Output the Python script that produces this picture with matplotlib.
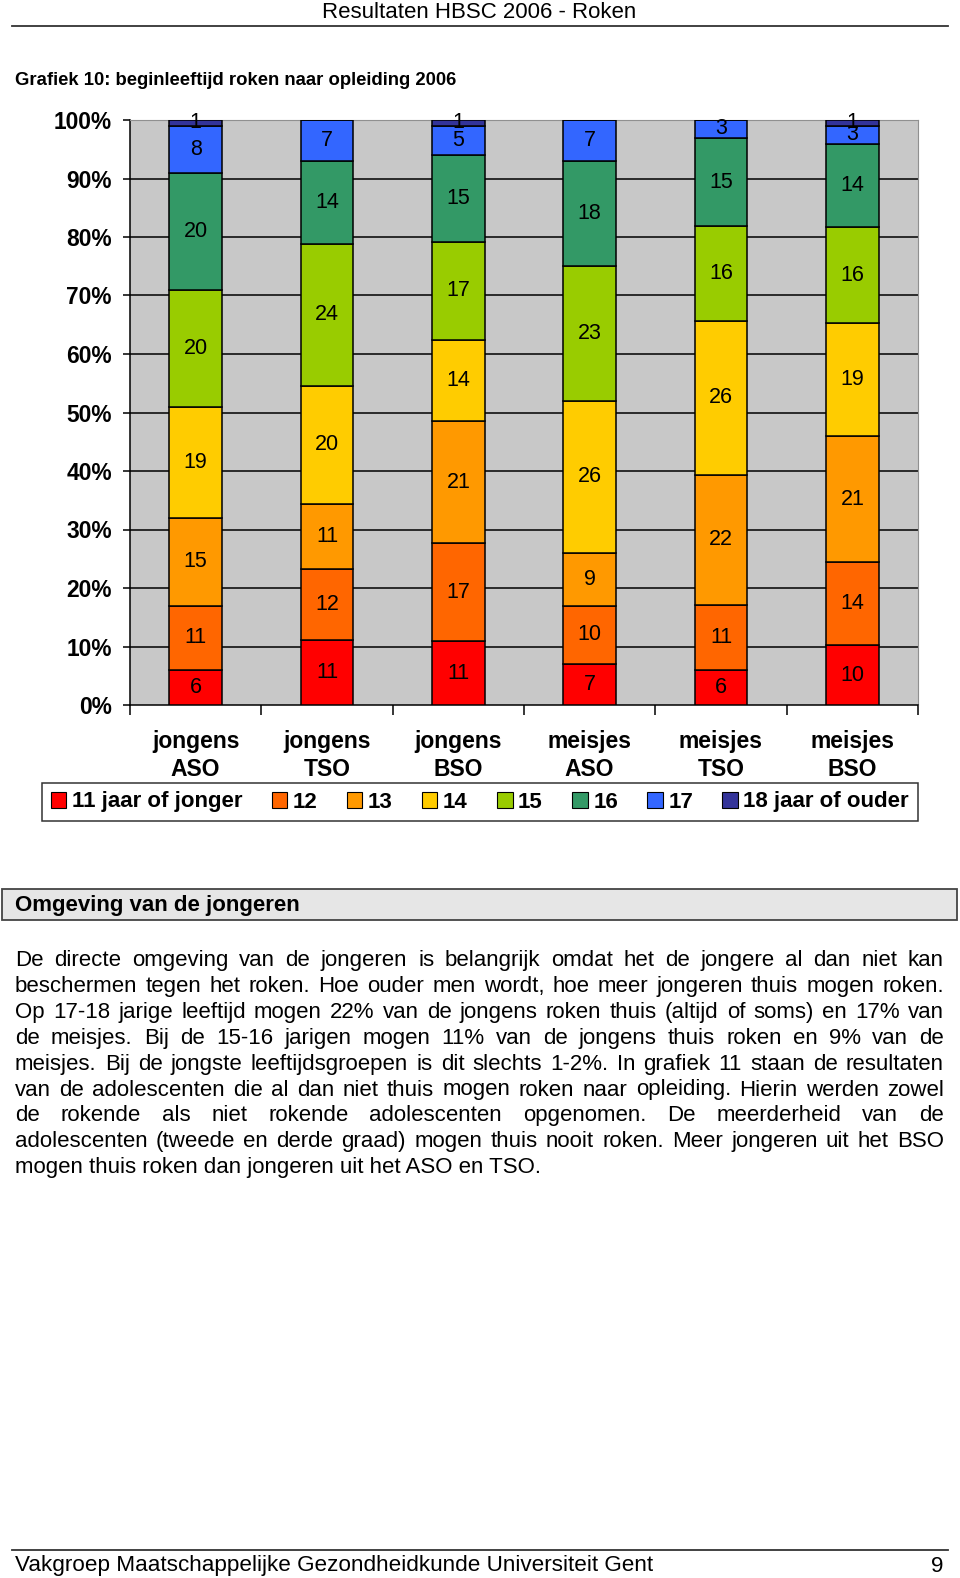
import matplotlib
matplotlib.use('Agg')
import matplotlib.pyplot as plt
import numpy as np
from matplotlib.patches import Rectangle, Patch

plt.rcParams['font.family'] = ['Liberation Sans', 'DejaVu Sans']

# chart data (percent, bottom to top)
groups = ['jongens\nASO', 'jongens\nTSO', 'jongens\nBSO', 'meisjes\nASO', 'meisjes\nTSO', 'meisjes\nBSO']
ages = ['11 jaar of jonger', '12', '13', '14', '15', '16', '17', '18 jaar of ouder']
colors = ['#FF0000', '#FF6600', '#FF9900', '#FFCC00', '#99CC00', '#339966', '#3366FF', '#333399']

age11 = [6, 11, 11, 7, 6, 10]
age12 = [11, 12, 17, 10, 11, 14]
age13 = [15, 11, 21, 9, 22, 21]
age14 = [19, 20, 14, 26, 26, 19]
age15 = [20, 24, 17, 23, 16, 16]
age16 = [20, 14, 15, 18, 15, 14]
age17 = [8, 7, 5, 7, 3, 3]
age18 = [1, 0, 1, 0, 0, 1]

y_ticks = [0, 10, 20, 30, 40, 50, 60, 70, 80, 90, 100]

header = 'Resultaten HBSC 2006 - Roken'
title = 'Grafiek 10: beginleeftijd roken naar opleiding 2006'
section = 'Omgeving van de jongeren'
body_lines = [
    'De directe omgeving van de jongeren is belangrijk omdat het de jongere al dan niet kan',
    'beschermen tegen het roken. Hoe ouder men wordt, hoe meer jongeren thuis mogen roken.',
    'Op 17-18 jarige leeftijd mogen 22% van de jongens roken thuis (altijd of soms) en 17% van',
    'de meisjes. Bij de 15-16 jarigen mogen 11% van de jongens thuis roken en 9% van de',
    'meisjes. Bij de jongste leeftijdsgroepen is dit slechts 1-2%. In grafiek 11 staan de resultaten',
    'van de adolescenten die al dan niet thuis mogen roken naar opleiding. Hierin werden zowel',
    'de rokende als niet rokende adolescenten opgenomen. De meerderheid van de',
    'adolescenten (tweede en derde graad) mogen thuis nooit roken. Meer jongeren uit het BSO',
    'mogen thuis roken dan jongeren uit het ASO en TSO.',
]
footer = 'Vakgroep Maatschappelijke Gezondheidkunde Universiteit Gent'
page_no = '9'

W, H = 960, 1578
fig = plt.figure(figsize=(W / 100, H / 100), dpi=100)

# page layer in pixel coordinates
page = fig.add_axes([0, 0, 1, 1])
page.set_xlim(0, W)
page.set_ylim(H, 0)
page.axis('off')

page.text(479, 12, header, ha='center', va='center', fontsize=16)
page.plot([12, 948], [26, 26], color='#333333', lw=1.3)
page.text(15, 80, title, ha='left', va='center', fontsize=13.3, fontweight='bold')

page.add_patch(Rectangle((2, 889), 955, 31, facecolor='#E6E6E6', edgecolor='#444444', lw=1.3))
page.text(15, 905, section, ha='left', va='center', fontsize=16, fontweight='bold')

# justified paragraph, words placed on a common baseline
renderer = fig.canvas.get_renderer()
x_left, x_right = 15, 944
y0, dy = 966, 25.9
for i, line in enumerate(body_lines):
    y = y0 + i * dy
    if i == len(body_lines) - 1:
        page.text(x_left, y, line, ha='left', va='baseline', fontsize=16)
        continue
    words = line.split(' ')
    txts = [page.text(0, y, w, ha='left', va='baseline', fontsize=16) for w in words]
    widths = [t.get_window_extent(renderer).width for t in txts]
    gap = (x_right - x_left - sum(widths)) / (len(words) - 1)
    x = x_left
    for t, wd in zip(txts, widths):
        t.set_x(x)
        x += wd + gap

page.plot([12, 948], [1550, 1550], color='#333333', lw=1.3)
page.text(15, 1566, footer, ha='left', va='center', fontsize=16.2)
page.text(944, 1566, page_no, ha='right', va='center', fontsize=16.2)

# chart
ax = fig.add_axes([130 / W, 1 - 705 / H, 788 / W, 585 / H])
series = [age11, age12, age13, age14, age15, age16, age17, age18]
data = np.array(series, dtype=float)
totals = data.sum(axis=0)
shares = data / totals * 100
x = np.arange(len(groups))
bottom = np.zeros(len(groups))
for k in range(len(ages)):
    bars = ax.bar(x, shares[k], 0.4, bottom=bottom, color=colors[k],
                  edgecolor='black', linewidth=1.1, zorder=3)
    labels = [str(v) if v > 0 else '' for v in series[k]]
    ax.bar_label(bars, labels=labels, label_type='center', fontsize=15.5, color='black')
    bottom += shares[k]

ax.set_facecolor('#C8C8C8')
ax.set_xlim(-0.5, len(groups) - 0.5)
ax.set_ylim(0, 100)
ax.set_yticks(y_ticks)
ax.set_yticklabels([f'{v}%' for v in y_ticks], fontsize=16.4, fontweight='bold')
for v in y_ticks[1:-1]:
    ax.axhline(v, color='black', lw=1.1, zorder=1)

ax.set_xticks(np.arange(-0.5, len(groups)), minor=False)
ax.set_xticklabels([])
ax.set_xticks(x, minor=True)
ax.set_xticklabels(groups, minor=True, fontsize=16.5, fontweight='bold', linespacing=1.25)
ax.tick_params(axis='x', which='major', length=7, width=1.1, direction='out')
ax.tick_params(axis='x', which='minor', length=0, pad=18)
ax.tick_params(axis='y', length=5, width=1.1, direction='out', pad=8)

ax.spines['left'].set_color('black')
ax.spines['bottom'].set_color('black')
ax.spines['left'].set_linewidth(1.1)
ax.spines['bottom'].set_linewidth(1.1)
ax.spines['top'].set_color('#909090')
ax.spines['right'].set_color('#909090')

handles = [Patch(facecolor=c, edgecolor='black', linewidth=0.8) for c in colors]
leg = fig.legend(handles, ages, ncol=8, loc='center', mode='expand',
                 bbox_to_anchor=(42 / W, 1 - 823 / H, 876 / W, 42 / H),
                 borderaxespad=0, prop={'weight': 'bold', 'size': 16},
                 handlelength=0.7, handleheight=0.7, handletextpad=0.25,
                 columnspacing=1.2, fancybox=False, frameon=True)
leg.get_frame().set_edgecolor('black')
leg.get_frame().set_linewidth(1.1)

fig.savefig('out.png', dpi=100)
